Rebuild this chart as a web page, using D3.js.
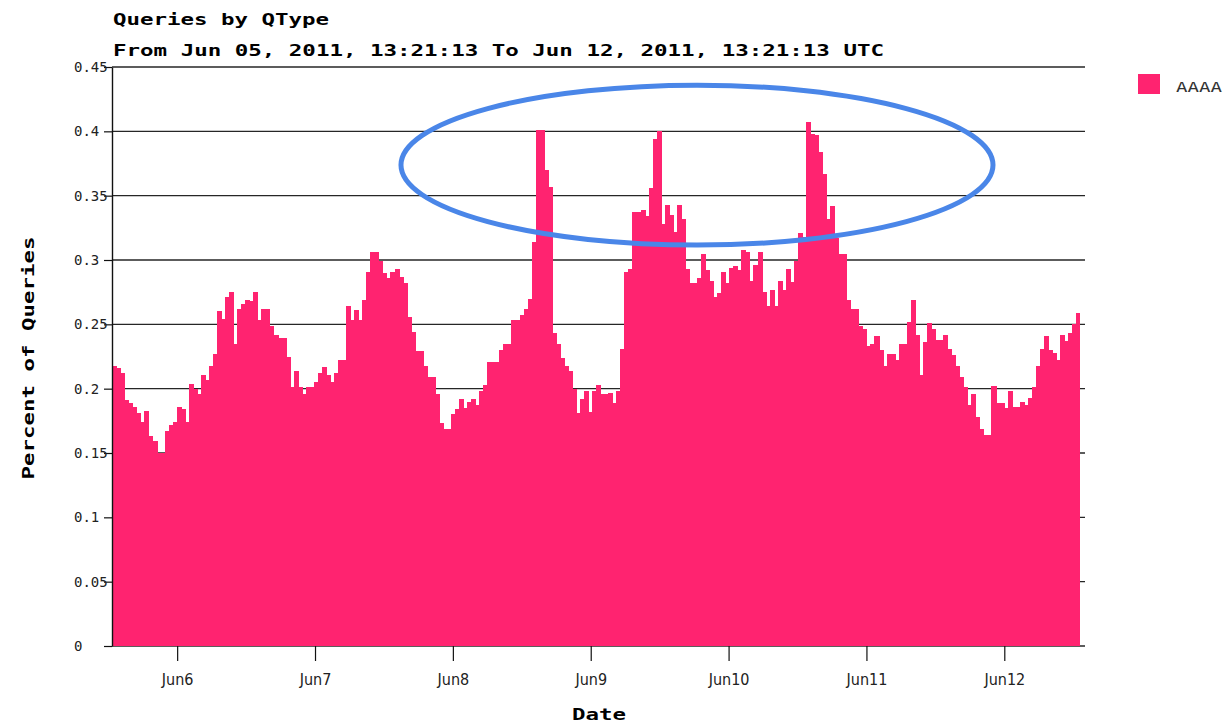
<!DOCTYPE html>
<html>
<head>
<meta charset="utf-8">
<script src="https://cdn.jsdelivr.net/npm/d3@7"></script>
<style>
  html, body { margin: 0; padding: 0; background: #fff; }
  svg { display: block; }
</style>
</head>
<body>
<svg id="chart"></svg>
<script>
// ---- data ----
const TITLE = "Queries by QType";
const SUBTITLE = "From Jun 05, 2011, 13:21:13 To Jun 12, 2011, 13:21:13 UTC";
const RANGE_START = "2011-06-05T13:21:13Z";
const RANGE_END = "2011-06-12T13:21:13Z";
const BIN_START = "2011-06-05T12:41:00Z";   // first bin begins a little before the range
const BIN_SECONDS = 2528;
const SERIES_NAME = "AAAA";

// percent of queries, one value per bin
const AAAA = [
  0.218, 0.216, 0.212, 0.191, 0.189, 0.186, 0.181, 0.174, 0.183, 0.163,
  0.159, 0.150, 0.150, 0.167, 0.172, 0.174, 0.186, 0.184, 0.174, 0.204,
  0.200, 0.196, 0.211,
  0.207, 0.218, 0.227, 0.260, 0.254, 0.271, 0.275, 0.235, 0.262, 0.266,
  0.269, 0.268, 0.275, 0.253, 0.262, 0.262, 0.249, 0.242,
  0.239, 0.239, 0.225, 0.201, 0.214, 0.201, 0.196, 0.201, 0.201, 0.205,
  0.212, 0.217, 0.211, 0.205, 0.212, 0.222, 0.222, 0.264, 0.253, 0.261,
  0.253, 0.269, 0.291, 0.306, 0.306, 0.299, 0.290, 0.286, 0.291, 0.293,
  0.287, 0.282, 0.256, 0.244, 0.229, 0.229, 0.218, 0.209, 0.209, 0.196,
  0.173,
  0.169, 0.169, 0.180, 0.184, 0.192, 0.185, 0.190, 0.192, 0.187, 0.198,
  0.203, 0.221, 0.221, 0.221, 0.230, 0.235, 0.235, 0.253, 0.253, 0.257,
  0.262, 0.270, 0.314, 0.401, 0.401, 0.370, 0.357, 0.243, 0.235, 0.224,
  0.218, 0.214, 0.200, 0.181, 0.192, 0.198, 0.182, 0.198, 0.203, 0.196,
  0.196,
  0.197, 0.189, 0.198, 0.231, 0.291, 0.293, 0.337, 0.337, 0.339, 0.334,
  0.356, 0.394, 0.400, 0.328, 0.343, 0.335, 0.322, 0.343, 0.332, 0.293,
  0.282, 0.282, 0.286, 0.305, 0.292, 0.284, 0.271, 0.274, 0.291, 0.282,
  0.294, 0.295, 0.292, 0.308, 0.306, 0.284, 0.296, 0.306, 0.275, 0.264,
  0.277,
  0.264, 0.284, 0.277, 0.293, 0.283, 0.299, 0.321, 0.318, 0.407, 0.398,
  0.397, 0.384, 0.367, 0.332, 0.342, 0.317, 0.305, 0.305, 0.269, 0.262,
  0.262, 0.249, 0.246, 0.233, 0.235, 0.241, 0.230, 0.218, 0.227, 0.227,
  0.222, 0.235, 0.235, 0.252, 0.269, 0.242, 0.211, 0.236, 0.251, 0.246,
  0.238, 0.238, 0.242, 0.231, 0.226, 0.218, 0.209, 0.201, 0.187, 0.196,
  0.178, 0.169, 0.164, 0.164, 0.202, 0.189, 0.189, 0.185, 0.198, 0.186,
  0.186, 0.190, 0.187, 0.193, 0.201, 0.218, 0.231, 0.241, 0.230, 0.228,
  0.222, 0.242, 0.237, 0.243, 0.250, 0.259
];

const Y_TICKS = [0, 0.05, 0.1, 0.15, 0.2, 0.25, 0.3, 0.35, 0.4, 0.45];
const X_TICKS = ["2011-06-06", "2011-06-07", "2011-06-08", "2011-06-09",
                 "2011-06-10", "2011-06-11", "2011-06-12"];

// highlight ellipse drawn over the chart (time span and value span)
const HIGHLIGHT_TIME = ["2011-06-07T14:58:00Z", "2011-06-11T22:02:00Z"];
const HIGHLIGHT_VALUE = [0.3116, 0.4359];

// ---- layout ----
const W = 1224, H = 724;
const plot = {left: 112, right: 1085, top: 67, bottom: 646};
const BAR_COLOR = "#ff2370";
const MONO = "'DejaVu Sans Mono', monospace";
const NARROW = "'DejaVu Sans Condensed', 'Liberation Sans Narrow', sans-serif";

const svg = d3.select("#chart").attr("width", W).attr("height", H);

const x = d3.scaleUtc()
    .domain([new Date(RANGE_START), new Date(RANGE_END)])
    .range([116, 1081]);
const y = d3.scaleLinear().domain([0, 0.45]).range([plot.bottom, plot.top]);

// grid
svg.append("g")
  .selectAll("line")
  .data(Y_TICKS)
  .join("line")
    .attr("x1", plot.left).attr("x2", plot.right)
    .attr("y1", d => y(d)).attr("y2", d => y(d))
    .attr("stroke", "#262626")
    .attr("stroke-width", 1.4);

// bars
const binStart = new Date(BIN_START).getTime();
const bins = AAAA.map((v, i) => ({
  t0: new Date(binStart + i * BIN_SECONDS * 1000),
  t1: new Date(binStart + (i + 1) * BIN_SECONDS * 1000),
  v: v
}));

svg.append("g")
    .attr("shape-rendering", "crispEdges")
  .selectAll("rect")
  .data(bins)
  .join("rect")
    .attr("x", d => Math.round(x(d.t0)))
    .attr("width", (d, i) => Math.round(x(d.t1)) - Math.round(x(d.t0)) + (i < bins.length - 1 ? 1 : 0))
    .attr("y", d => y(d.v))
    .attr("height", d => y(0) - y(d.v))
    .attr("fill", BAR_COLOR);

// y axis
const yAxis = svg.append("g")
    .attr("transform", `translate(${plot.left},0)`)
    .call(d3.axisLeft(y)
      .tickValues(Y_TICKS)
      .tickSize(8)
      .tickSizeOuter(0)
      .tickFormat(d => String(+d.toFixed(2))));
yAxis.select(".domain").attr("stroke", "#111").attr("stroke-width", 1.4);
yAxis.selectAll(".tick line").attr("stroke", "#111").attr("stroke-width", 1.2);
yAxis.selectAll("text")
    .attr("x", -38)
    .attr("text-anchor", "start")
    .attr("font-family", MONO)
    .attr("font-size", 14)
    .attr("fill", "#222");

// x axis
const xAxis = svg.append("g")
    .attr("transform", `translate(0,${plot.bottom})`)
    .call(d3.axisBottom(x)
      .tickValues(X_TICKS.map(d => new Date(d + "T00:00:00Z")))
      .tickSize(15)
      .tickSizeOuter(0)
      .tickFormat(d3.utcFormat("%b%-d")));
xAxis.select(".domain").remove();
xAxis.selectAll(".tick line").attr("stroke", "#111").attr("stroke-width", 1.2);
xAxis.selectAll("text")
    .attr("y", 28)
    .attr("font-family", NARROW)
    .attr("font-size", 16)
    .attr("fill", "#222");

// titles
svg.append("text")
    .attr("x", 113).attr("y", 25)
    .attr("font-family", MONO).attr("font-weight", "bold").attr("font-size", 15)
    .attr("textLength", 216).attr("lengthAdjust", "spacingAndGlyphs")
    .text(TITLE);
svg.append("text")
    .attr("x", 113).attr("y", 56)
    .attr("font-family", MONO).attr("font-weight", "bold").attr("font-size", 15)
    .attr("textLength", 771).attr("lengthAdjust", "spacingAndGlyphs")
    .text(SUBTITLE);

// axis titles
svg.append("text")
    .attr("transform", "translate(34,358) rotate(-90)")
    .attr("text-anchor", "middle")
    .attr("font-family", MONO).attr("font-weight", "bold").attr("font-size", 15)
    .attr("textLength", 243).attr("lengthAdjust", "spacingAndGlyphs")
    .text("Percent of Queries");
svg.append("text")
    .attr("x", 599).attr("y", 720)
    .attr("text-anchor", "middle")
    .attr("font-family", MONO).attr("font-weight", "bold").attr("font-size", 15)
    .attr("textLength", 54).attr("lengthAdjust", "spacingAndGlyphs")
    .text("Date");

// legend
const legend = svg.append("g").attr("transform", "translate(1138,74)");
legend.append("rect").attr("width", 22).attr("height", 20).attr("fill", BAR_COLOR);
legend.append("text")
    .attr("x", 38).attr("y", 18)
    .attr("font-family", MONO).attr("font-size", 14).attr("fill", "#333")
    .attr("textLength", 46).attr("lengthAdjust", "spacingAndGlyphs")
    .text(SERIES_NAME);

// highlight ellipse
const ex0 = x(new Date(HIGHLIGHT_TIME[0])), ex1 = x(new Date(HIGHLIGHT_TIME[1]));
const ey0 = y(HIGHLIGHT_VALUE[1]), ey1 = y(HIGHLIGHT_VALUE[0]);
svg.append("ellipse")
    .attr("cx", (ex0 + ex1) / 2)
    .attr("cy", (ey0 + ey1) / 2)
    .attr("rx", (ex1 - ex0) / 2)
    .attr("ry", (ey1 - ey0) / 2)
    .attr("fill", "none")
    .attr("stroke", "#4a86e8")
    .attr("stroke-width", 5);
</script>
</body>
</html>
